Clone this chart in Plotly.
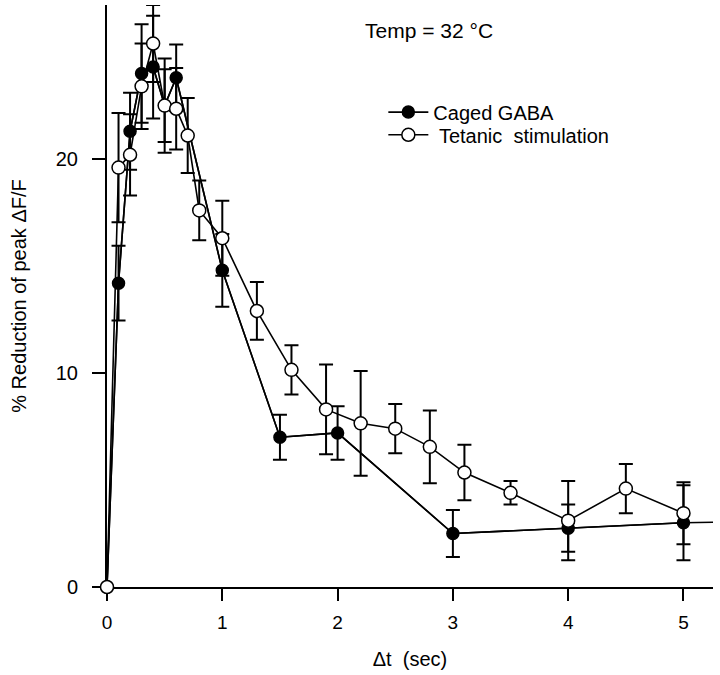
import plotly.graph_objects as go

# Caged GABA (filled circles); last point lies beyond the visible axis range
gaba_x = [0, 0.1, 0.2, 0.3, 0.4, 0.5, 0.6, 1.0, 1.5, 2.0, 3.0, 4.0, 5.0, 6.0]
gaba_y = [0, 14.2, 21.3, 24.0, 24.3, 22.5, 23.8, 14.8, 7.0, 7.2, 2.5, 2.75, 3.0, 3.1]
gaba_err = [0, 1.75, 1.8, 2.3, 2.4, 1.7, 1.55, 1.7, 1.05, 1.25, 1.1, 1.1, 1.75, 0]

# Tetanic stimulation (open circles)
tet_x = [0, 0.1, 0.2, 0.3, 0.4, 0.5, 0.6, 0.7, 0.8, 1.0, 1.3, 1.6, 1.9, 2.2, 2.5, 2.8, 3.1, 3.5, 4.0, 4.5, 5.0]
tet_y = [0, 19.6, 20.2, 23.4, 25.4, 22.5, 22.35, 21.1, 17.6, 16.3, 12.9, 10.15, 8.3, 7.65, 7.4, 6.55, 5.35, 4.4, 3.1, 4.6, 3.45]
tet_err = [0, 2.55, 1.9, 2.0, 1.8, 2.2, 1.9, 1.75, 1.4, 1.75, 1.35, 1.15, 2.1, 2.45, 1.15, 1.7, 1.3, 0.55, 1.85, 1.15, 1.45]

x_ticks = [0, 1, 2, 3, 4, 5]
y_ticks = [0, 10, 20]

FONT = "Liberation Sans, Arial, Helvetica, sans-serif"
n_vis = 13  # points of the GABA series that fall inside the axis range

fig = go.Figure()

# full GABA line (clipped at the right edge)
fig.add_trace(go.Scatter(
    x=gaba_x, y=gaba_y, mode="lines",
    line=dict(color="black", width=1.6),
    showlegend=False, hoverinfo="skip",
))
fig.add_trace(go.Scatter(
    x=gaba_x[:n_vis], y=gaba_y[:n_vis], mode="lines+markers",
    name="Caged GABA", legend="legend",
    line=dict(color="black", width=1.6),
    marker=dict(symbol="circle", size=12, color="black",
                line=dict(color="black", width=1.5)),
    error_y=dict(type="data", array=gaba_err[:n_vis], visible=True,
                 color="black", thickness=2, width=7),
    cliponaxis=False,
))
fig.add_trace(go.Scatter(
    x=tet_x, y=tet_y, mode="lines+markers",
    name="\u00a0Tetanic\u00a0\u00a0stimulation", legend="legend2",
    line=dict(color="black", width=1.6),
    marker=dict(symbol="circle", size=13, color="white",
                line=dict(color="black", width=1.5)),
    error_y=dict(type="data", array=tet_err, visible=True,
                 color="black", thickness=2, width=7),
    cliponaxis=False,
))

fig.add_annotation(
    text="Temp = 32 °C", xref="paper", yref="paper",
    x=0.4224, y=0.957, xanchor="left", yanchor="middle",
    showarrow=False, font=dict(family=FONT, size=21, color="black"),
)

legend_common = dict(xanchor="left", yanchor="middle",
                     bgcolor="rgba(0,0,0,0)", borderwidth=0,
                     font=dict(family=FONT, size=20, color="black"),
                     itemwidth=40)

fig.update_layout(
    width=720, height=675,
    margin=dict(l=107, r=7, t=5, b=88),
    paper_bgcolor="white", plot_bgcolor="white",
    font=dict(family=FONT, size=19, color="black"),
    showlegend=True,
    legend=dict(x=0.456, y=0.816, **legend_common),
    legend2=dict(x=0.456, y=0.777, **legend_common),
    xaxis=dict(
        range=[0, 5.256], tickvals=x_ticks, ticktext=[str(v) for v in x_ticks],
        showgrid=False, zeroline=False, showline=True, linecolor="black",
        linewidth=2, ticks="outside", ticklen=12, tickwidth=2, tickcolor="black",
        ticklabelstandoff=5, layer="below traces",
        title=dict(text="Δt  (sec)", font=dict(family=FONT, size=20), standoff=20),
    ),
    yaxis=dict(
        range=[0, 27.2], tickvals=y_ticks, ticktext=[str(v) for v in y_ticks],
        showgrid=False, zeroline=False, showline=True, linecolor="black",
        linewidth=2, ticks="outside", ticklen=13, tickwidth=2, tickcolor="black",
        ticklabelstandoff=10, tickfont=dict(family=FONT, size=20),
        layer="below traces",
        title=dict(text="% Reduction of peak ΔF/F", font=dict(family=FONT, size=20), standoff=24),
    ),
)

fig.write_html("out.html", config={"displayModeBar": False},
               post_script="document.body.style.margin='0';")
